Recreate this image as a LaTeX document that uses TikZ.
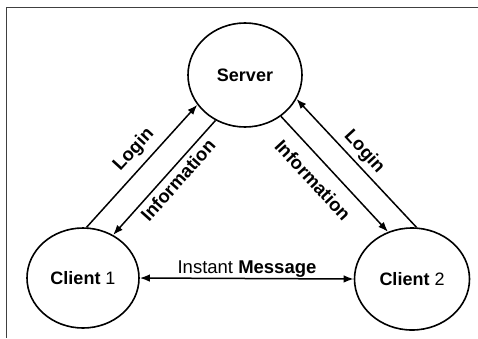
\documentclass[tikz,border=0pt]{standalone}
\usepackage{fontspec}
\setmainfont{Liberation Sans}
\usetikzlibrary{shapes.geometric,arrows.meta}
\begin{document}
\begin{tikzpicture}[x=1pt,y=-1pt,
  every node/.style={font=\fontsize{18.5}{20}\selectfont},
  ent/.style={ellipse,draw,line width=1.6pt,inner sep=0pt,font=\fontsize{18}{20}\selectfont\bfseries},
  flow/.style={line width=1.5pt,-{Latex[length=10pt,width=7.5pt]}},
  lbl/.style={font=\fontsize{18.5}{20}\selectfont\bfseries,inner sep=0pt}]
\useasboundingbox (0,0) rectangle (478,338);
\draw[line width=0.8pt,black!75] (478,7) -- (6,7) -- (6,338);
\node[ent,minimum width=114pt,minimum height=104pt] (srv) at (245,75) {Server};
\node[ent,minimum width=112pt,minimum height=100pt] (c1) at (83,278) {Client \mdseries 1};
\node[ent,minimum width=115pt,minimum height=102pt] (c2) at (412,279) {Client \mdseries 2};
\draw[flow] (c1.86) -- (srv.212);
\draw[flow] (srv.237) -- (c1.55);
\draw[flow] (srv.311) -- (c2.117);
\draw[flow] (c2.85) -- (srv.335);
\draw[line width=1.5pt,{Latex[length=10pt,width=7.5pt]}-{Latex[length=10pt,width=7.5pt]}] (c1.east) -- (c2.west);
\node[lbl,rotate=47.5] (l1) at (134,150) {Login};
\node[lbl,rotate=48.4] (i1) at (178,180) {Information};
\node[lbl,rotate=-47.3] (i2) at (313,180) {Information};
\node[lbl,rotate=-47.5] (l2) at (364,152) {Login};
\node (im) at (247,269) {Instant \textbf{Message}};
\end{tikzpicture}
\end{document}
